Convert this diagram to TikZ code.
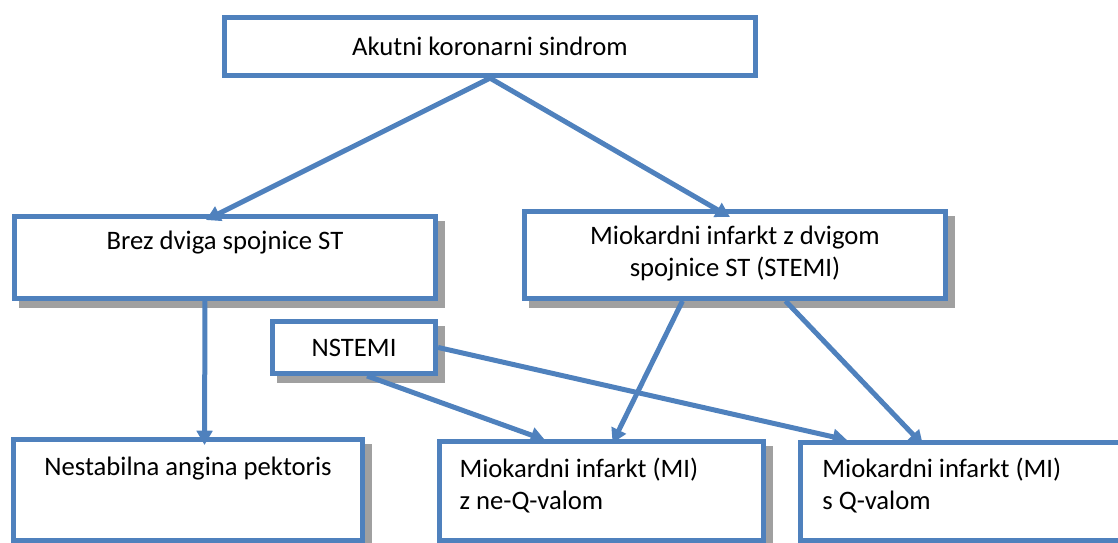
\documentclass[tikz,border=0pt]{standalone}
\usepackage{fontspec}
\setmainfont{Carlito}
\usetikzlibrary{calc,shadows,arrows.meta}
\definecolor{boxblue}{HTML}{4F81BD}
\definecolor{shadowgray}{HTML}{A0A0A0}
\tikzset{
 box/.style={draw=boxblue, line width=2.1pt, fill=white, inner sep=0pt, anchor=north west,
   font=\fontsize{11.2pt}{13.4pt}\selectfont},
 boxshadow/.style={general shadow={draw=shadowgray, fill=shadowgray, line width=2.1pt,
   shadow xshift=2.9pt, shadow yshift=-2.9pt}},
 arr/.style={draw=boxblue, line width=2.1pt, -{Triangle[length=6pt,width=6.5pt]}}
}

\begin{document}
\begin{tikzpicture}[x=0.42pt,y=-0.42pt]
\path[use as bounding box] (0,0) rectangle (1118,542);
\clip (0,0) rectangle (1118,542);

\node[box, minimum width=223pt, minimum height=24.4pt] (akutni) at (222,15) {Akutni koronarni sindrom};

\node[box, boxshadow, align=flush center, text width=176.8pt, text height=13.9pt, text depth=20.5pt]
  (brez) at (12,214) {Brez dviga spojnice ST};
\node[box, boxshadow, align=flush center, text width=176.8pt, text height=13.9pt, text depth=22.6pt]
  (stemi) at (522,209) {Miokardni infarkt z dvigom\\ spojnice ST (STEMI)};
\node[box, boxshadow, minimum width=68.5pt, minimum height=21.8pt] (nstemi) at (270,319) {NSTEMI};

\node[box, boxshadow, align=flush center, text width=146.6pt, text height=15.1pt, text depth=27.3pt]
  (nestab) at (11,437) {Nestabilna angina pektoris};
\node[box, boxshadow, align=flush left, inner xsep=8.4pt, text width=119.3pt, text height=15.1pt, text depth=26.5pt]
  (mine) at (437,439) {Miokardni infarkt (MI)\\ z ne-Q-valom};
\node[box, align=flush left, inner xsep=9.2pt, text width=123.1pt, text height=14.7pt, text depth=26.5pt]
  (mis) at (798,440) {Miokardni infarkt (MI)\\ s Q-valom};

% puscice
\draw[arr] (akutni.south) -- ($(brez.north)+(-19,6)$);
\draw[arr] (akutni.south) -- ($(stemi.north)+(-5,8)$);
\draw[arr] ($(brez.south)+(-20,0)$) -- ($(nestab.north)+(16.5,8)$);
\draw[arr] ($(stemi.south)+(-52.5,0)$) -- ($(mine.north)+(11,4)$);
\draw[arr] ($(stemi.south)+(50.5,0)$) -- ($(mis.north west)+(125,5)$);
\draw[arr] ($(nstemi.south)+(13,0)$) -- ($(mine.north west)+(108,1)$);
\draw[arr] (nstemi.east) -- ($(mis.north west)+(49,0)$);
\end{tikzpicture}
\end{document}
